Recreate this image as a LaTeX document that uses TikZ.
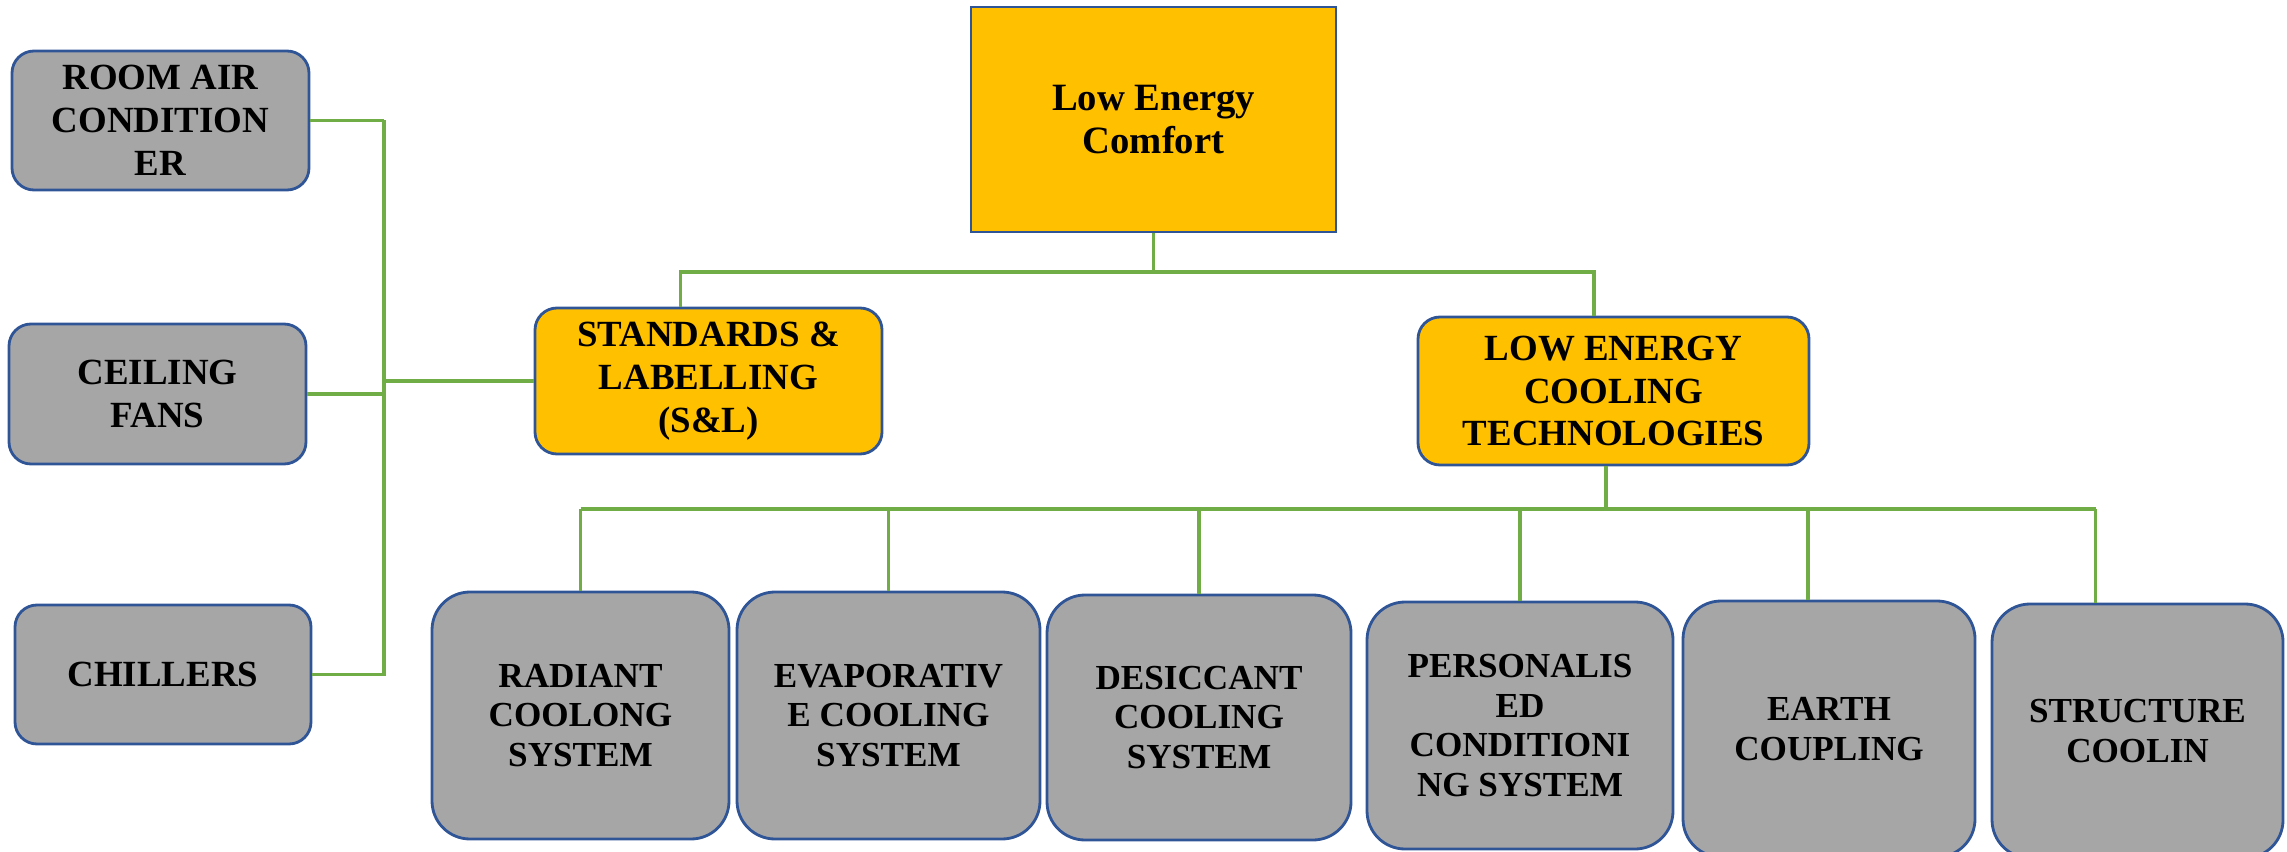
\documentclass[tikz,border=0pt]{standalone}
\usepackage{fontspec}
\setmainfont{Liberation Serif}
\usetikzlibrary{calc}
\definecolor{gold}{HTML}{FFC000}
\definecolor{boxgray}{HTML}{A6A6A6}
\definecolor{edgeblue}{HTML}{2F5597}
\definecolor{linegreen}{HTML}{70AD47}
\tikzset{
  basebox/.style={draw=edgeblue, line width=0.8pt, inner sep=0pt, align=center,
    font=\fontsize{10.5}{12.2}\selectfont\bfseries, text=black},
  graybox/.style={basebox, fill=boxgray, rounded corners=0.22cm},
  goldbox/.style={basebox, fill=gold, rounded corners=0.22cm},
  topbox/.style={basebox, fill=gold, sharp corners, font=\fontsize{11}{12.5}\selectfont\bfseries},
  lowbox/.style={basebox, fill=boxgray, rounded corners=0.38cm,
    font=\fontsize{10}{11.2}\selectfont\bfseries},
  conn/.style={draw=linegreen, line width=1.1pt}
}
\begin{document}
\begin{tikzpicture}
\useasboundingbox (0,0) rectangle (22.87,-8.52);
\clip (0,0) rectangle (22.87,-8.52);
% top
\node[topbox, minimum width=3.65cm, minimum height=2.25cm] (lec) at (11.535,-1.195) {Low Energy\\Comfort};
\node[goldbox, minimum width=3.47cm, minimum height=1.46cm] (sl) at (7.085,-3.81) {STANDARDS \&\\LABELLING\\(S\&L)};
\node[goldbox, minimum width=3.91cm, minimum height=1.48cm] (lect) at (16.135,-3.91) {LOW ENERGY\\COOLING\\TECHNOLOGIES};
% left column
\node[graybox, minimum width=2.97cm, minimum height=1.39cm] (room) at (1.605,-1.205) {ROOM AIR\\CONDITION\\ER};
\node[graybox, minimum width=2.97cm, minimum height=1.40cm] (fans) at (1.575,-3.94) {CEILING\\FANS};
\node[graybox, minimum width=2.96cm, minimum height=1.39cm] (chill) at (1.63,-6.745) {CHILLERS};
% bottom row
\node[lowbox, minimum width=2.97cm, minimum height=2.47cm] (rad) at (5.805,-7.155) {RADIANT\\COOLONG\\SYSTEM};
\node[lowbox, minimum width=3.03cm, minimum height=2.47cm] (evap) at (8.885,-7.155) {EVAPORATIV\\E COOLING\\SYSTEM};
\node[lowbox, minimum width=3.04cm, minimum height=2.45cm] (desi) at (11.99,-7.175) {DESICCANT\\COOLING\\SYSTEM};
\node[lowbox, minimum width=3.06cm, minimum height=2.47cm] (pers) at (15.20,-7.255) {PERSONALIS\\ED\\CONDITIONI\\NG SYSTEM};
\node[lowbox, minimum width=2.92cm, minimum height=2.56cm] (earth) at (18.29,-7.29) {EARTH\\COUPLING};
\node[lowbox, minimum width=2.91cm, minimum height=2.54cm] (struct) at (21.375,-7.31) {STRUCTURE\\COOLIN};
% left bus
\coordinate (busTop) at (3.84,-1.205);
\coordinate (busBot) at (3.84,-6.76);
\draw[conn] (busTop) -- (busBot);
\draw[conn] (room.east) -- (busTop);
\draw[conn] (fans.east) -- (fans.east -| busTop);
\draw[conn] (chill.east) -- (chill.east -| busTop);
\draw[conn] (sl.west) -- (sl.west -| busTop);
% top tree
\coordinate (hub1) at ($(lec.south)+(0,-0.39)$);
\coordinate (slTop) at ($(sl.north west)!0.42!(sl.north east)$);
\coordinate (lectTop) at ($(lect.north west)!0.45!(lect.north east)$);
\draw[conn] (lec.south) -- (hub1);
\draw[conn] (slTop) |- (hub1) -| (lectTop);
% bottom tree
\coordinate (lectBot) at ($(lect.south west)!0.48!(lect.south east)$);
\coordinate (earthTop) at ($(earth.north west)!0.43!(earth.north east)$);
\coordinate (structTop) at ($(struct.north west)!0.357!(struct.north east)$);
\coordinate (busL) at ($(rad.north)+(0,0.82)$);
\coordinate (busR) at (structTop |- busL);
\draw[conn] (lectBot) -- (lectBot |- busL);
\draw[conn] (busL) -- (busR);
\draw[conn] (busL) -- (rad.north);
\draw[conn] (evap.north |- busL) -- (evap.north);
\draw[conn] (desi.north |- busL) -- (desi.north);
\draw[conn] (pers.north |- busL) -- (pers.north);
\draw[conn] (earthTop |- busL) -- (earthTop);
\draw[conn] (busR) -- (structTop);
\end{tikzpicture}
\end{document}
